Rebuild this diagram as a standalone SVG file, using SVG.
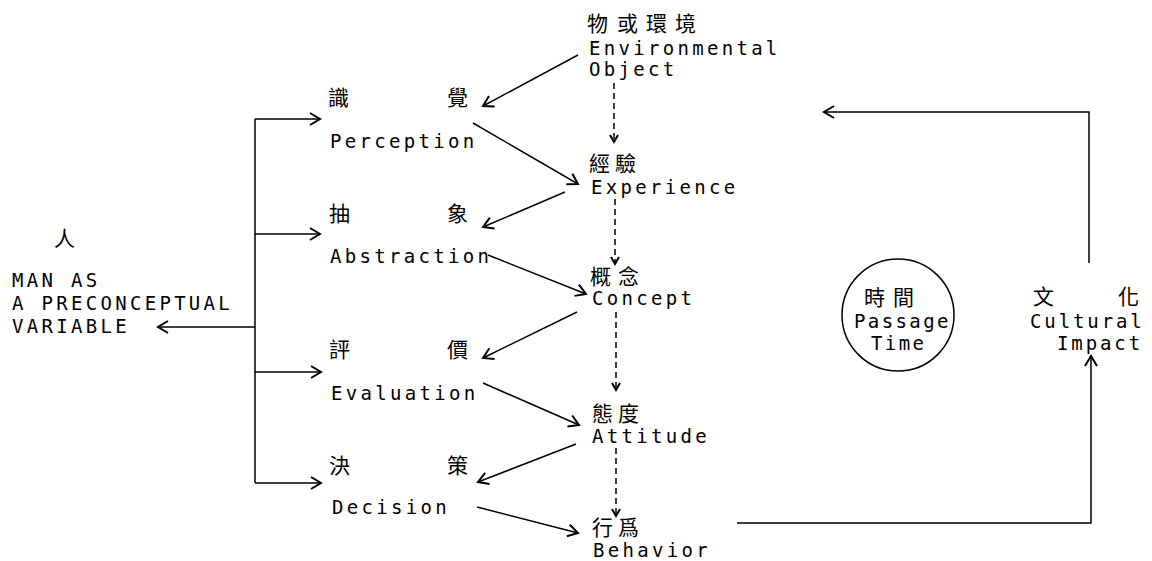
<svg xmlns="http://www.w3.org/2000/svg" width="1152" height="561" viewBox="0 0 1152 561">
<style>
.en{font-family:"DejaVu Sans Mono","Liberation Mono",monospace;font-size:19px;letter-spacing:3.3px;fill:#000}
.zh{font-family:"Noto Sans CJK TC","Noto Sans CJK SC",sans-serif;font-size:21px;fill:#000}
.ln{fill:none;stroke:#000;stroke-width:1.5}
.ds{fill:none;stroke:#000;stroke-width:1.5;stroke-dasharray:6,4}
</style>
<defs>
<marker id="ah" markerUnits="userSpaceOnUse" markerWidth="16" markerHeight="16" refX="11" refY="7" orient="auto" overflow="visible">
<path d="M1,1 L11,7 L1,13" fill="none" stroke="#000" stroke-width="2"/>
</marker>
<marker id="sh" markerUnits="userSpaceOnUse" markerWidth="12" markerHeight="12" refX="8" refY="5" orient="auto" overflow="visible">
<path d="M1,1 L8,5 L1,9" fill="none" stroke="#000" stroke-width="2"/>
</marker>
</defs>
<rect width="1152" height="561" fill="#fff"/>

<g id="man">
<text class="zh" x="54" y="246">人</text>
<text class="en" x="12" y="287">MAN AS</text>
<text class="en" x="12" y="310">A PRECONCEPTUAL</text>
<text class="en" x="12" y="333">VARIABLE</text>
</g>

<g id="perception">
<text class="zh" y="105"><tspan x="328">識</tspan><tspan x="447">覺</tspan></text>
<text class="en" x="330" y="148">Perception</text>
</g>
<g id="abstraction">
<text class="zh" y="221"><tspan x="329">抽</tspan><tspan x="447">象</tspan></text>
<text class="en" x="330" y="263">Abstraction</text>
</g>
<g id="evaluation">
<text class="zh" y="357"><tspan x="329">評</tspan><tspan x="447">價</tspan></text>
<text class="en" x="331" y="400">Evaluation</text>
</g>
<g id="decision">
<text class="zh" y="473"><tspan x="329">決</tspan><tspan x="447">策</tspan></text>
<text class="en" x="332" y="514">Decision</text>
</g>

<g id="object">
<text class="zh" x="587 617 646 675" y="31">物或環境</text>
<text class="en" x="589" y="55">Environmental</text>
<text class="en" x="589" y="76">Object</text>
</g>
<g id="experience">
<text class="zh" x="589 615" y="171">經驗</text>
<text class="en" x="591" y="194">Experience</text>
</g>
<g id="concept">
<text class="zh" x="590 618" y="284">概念</text>
<text class="en" x="592" y="305">Concept</text>
</g>
<g id="attitude">
<text class="zh" x="592 618" y="421">態度</text>
<text class="en" x="592" y="443">Attitude</text>
</g>
<g id="behavior">
<text class="zh" x="592 618" y="535">行爲</text>
<text class="en" x="593" y="557">Behavior</text>
</g>

<g id="time">
<circle cx="898" cy="315" r="56" fill="none" stroke="#000" stroke-width="1.5"/>
<text class="zh" x="864 893" y="305">時間</text>
<text class="en" x="854" y="328" style="letter-spacing:2.4px">Passage</text>
<text class="en" x="871" y="350" style="letter-spacing:2.4px">Time</text>
</g>

<g id="culture">
<text class="zh" y="304"><tspan x="1033">文</tspan><tspan x="1118">化</tspan></text>
<text class="en" x="1030" y="328" style="letter-spacing:2.9px">Cultural</text>
<text class="en" x="1057" y="350" style="letter-spacing:2.9px">Impact</text>
</g>

<g id="connectors">
<path class="ln" d="M255,119 V483"/>
<path class="ln" d="M255,119 H320" marker-end="url(#ah)"/>
<path class="ln" d="M255,234 H320" marker-end="url(#ah)"/>
<path class="ln" d="M255,372 H321" marker-end="url(#ah)"/>
<path class="ln" d="M255,483 H321" marker-end="url(#ah)"/>
<path class="ln" d="M255,327 H158" marker-end="url(#ah)"/>

<path class="ln" d="M578,55 L483,106" marker-end="url(#ah)"/>
<path class="ln" d="M473,123 L578,184" marker-end="url(#ah)"/>
<path class="ln" d="M565,192 L483,227" marker-end="url(#ah)"/>
<path class="ln" d="M488,255 L586,294" marker-end="url(#ah)"/>
<path class="ln" d="M577,312 L483,358" marker-end="url(#ah)"/>
<path class="ln" d="M483,383 L579,425" marker-end="url(#ah)"/>
<path class="ln" d="M576,444 L478,482" marker-end="url(#ah)"/>
<path class="ln" d="M477,507 L578,533" marker-end="url(#ah)"/>

<path class="ds" d="M614,83 V142" marker-end="url(#sh)"/>
<path class="ds" d="M615,199 V264" marker-end="url(#sh)"/>
<path class="ds" d="M616,312 V390" marker-end="url(#sh)"/>
<path class="ds" d="M616,448 V516" marker-end="url(#sh)"/>

<path class="ln" d="M737,523 H1091 V356" marker-end="url(#ah)"/>
<path class="ln" d="M1089,263 V112 H824" marker-end="url(#ah)"/>
</g>
</svg>
